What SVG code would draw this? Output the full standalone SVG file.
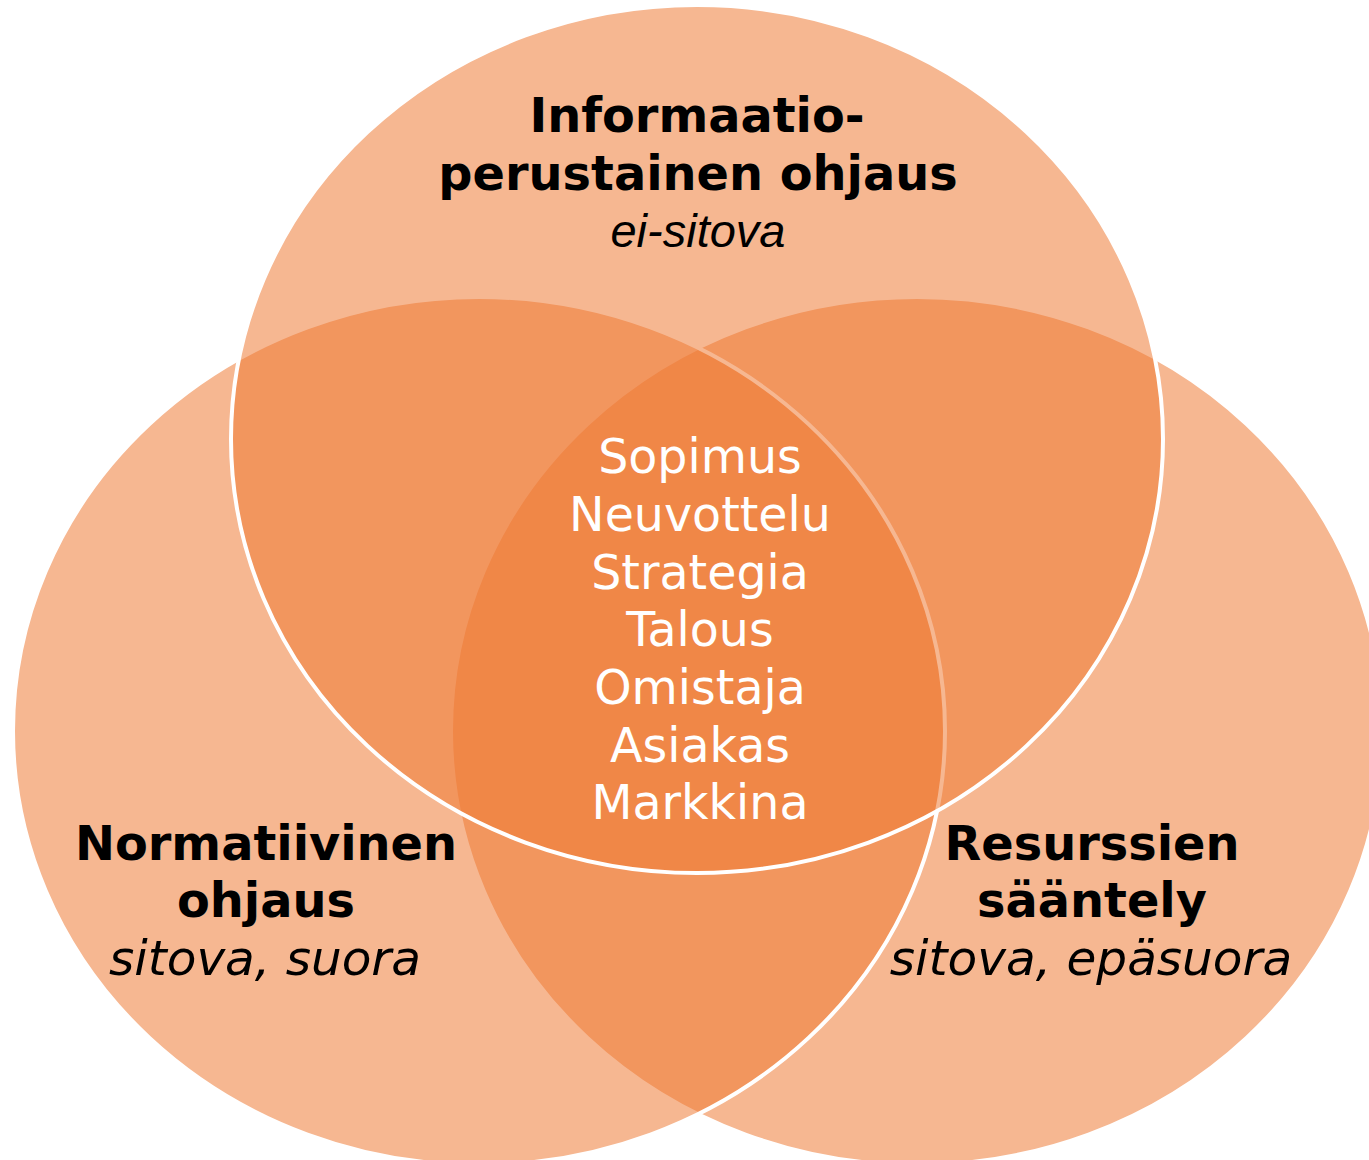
<svg xmlns="http://www.w3.org/2000/svg" width="1369" height="1160" viewBox="0 0 1369 1160">
  <style>
    .c { fill: #EF7A33; fill-opacity: 0.54; stroke: #FFFFFF; stroke-width: 4; }
    .h { font-family: "DejaVu Sans", Verdana, sans-serif; font-weight: bold; font-size: 47.8px; fill: #000; text-anchor: middle; }
    .s { font-family: "DejaVu Sans", Verdana, sans-serif; font-style: italic; font-size: 48.5px; fill: #000; text-anchor: middle; }
    .a { font-family: "Liberation Sans", Arial, sans-serif; font-style: italic; font-size: 47px; fill: #000; text-anchor: middle; }
    .w { font-family: "DejaVu Sans", Verdana, sans-serif; font-size: 47.5px; fill: #FFFFFF; text-anchor: middle; }
  </style>
  <rect width="1369" height="1160" fill="#FFFFFF"/>
  <g id="node-resurssien">
    <ellipse class="c" cx="917" cy="731" rx="466" ry="434"/>
    <text class="h" x="1092" y="860">Resurssien</text>
    <text class="h" x="1092" y="917">sääntely</text>
    <text class="s" x="1091" y="975">sitova, epäsuora</text>
  </g>
  <g id="node-normatiivinen">
    <ellipse class="c" cx="479" cy="731" rx="466" ry="434"/>
    <text class="h" x="266" y="860">Normatiivinen</text>
    <text class="h" x="266" y="917">ohjaus</text>
    <text class="s" x="265" y="975">sitova, suora</text>
  </g>
  <g id="node-informaatio">
    <ellipse class="c" cx="697" cy="439" rx="466" ry="434"/>
    <text class="h" x="697" y="132">Informaatio-</text>
    <text class="h" x="698" y="190">perustainen ohjaus</text>
    <text class="a" x="698" y="247">ei-sitova</text>
  </g>
  <g id="node-center">
    <text class="w" x="700" y="473">Sopimus</text>
    <text class="w" x="700" y="531">Neuvottelu</text>
    <text class="w" x="700" y="589">Strategia</text>
    <text class="w" x="700" y="646">Talous</text>
    <text class="w" x="700" y="704">Omistaja</text>
    <text class="w" x="700" y="762">Asiakas</text>
    <text class="w" x="700" y="819">Markkina</text>
  </g>
  <g id="connectors"/>
</svg>
